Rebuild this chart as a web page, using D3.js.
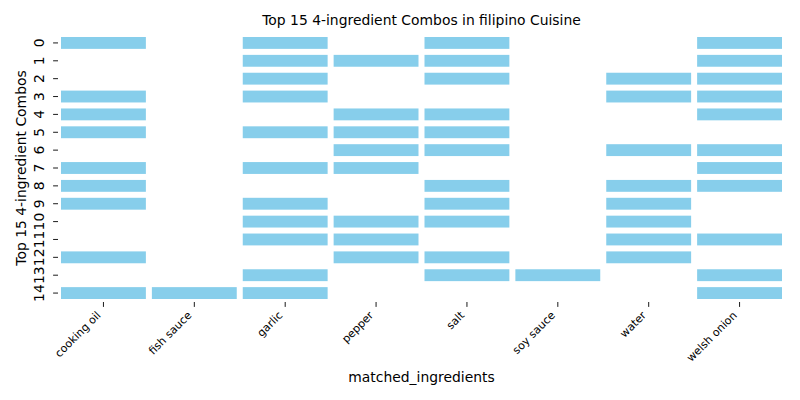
<!DOCTYPE html>
<html><head><meta charset="utf-8">
<script src="https://cdn.jsdelivr.net/npm/d3@7"></script>
<style>body{margin:0;background:#fff}text{font-family:"DejaVu Sans",sans-serif;fill:#000}</style>
</head><body><svg id="c" width="800" height="400"></svg>
<script>
const ingredients = ["cooking oil","fish sauce","garlic","pepper","salt","soy sauce","water","welsh onion"];
const comboLabels = ["0","1","2","3","4","5","6","7","8","9","10","11","12","13","14"];
const combos = [
  ["cooking oil","garlic","salt","welsh onion"],
  ["garlic","pepper","salt","welsh onion"],
  ["garlic","salt","water","welsh onion"],
  ["cooking oil","garlic","water","welsh onion"],
  ["cooking oil","pepper","salt","welsh onion"],
  ["cooking oil","garlic","pepper","salt"],
  ["pepper","salt","water","welsh onion"],
  ["cooking oil","garlic","pepper","welsh onion"],
  ["cooking oil","salt","water","welsh onion"],
  ["cooking oil","garlic","salt","water"],
  ["garlic","pepper","salt","water"],
  ["garlic","pepper","water","welsh onion"],
  ["cooking oil","pepper","salt","water"],
  ["garlic","salt","soy sauce","welsh onion"],
  ["cooking oil","fish sauce","garlic","welsh onion"]
];
const titleText = "Top 15 4-ingredient Combos in filipino Cuisine";

const L = 58, R = 785, T = 34, B = 302, gap = 3;
const svg = d3.select("#c");
const x = d3.scaleBand().domain(ingredients).range([L, R]);
const y = d3.scaleBand().domain(comboLabels).range([T, B]);
const color = d3.scaleOrdinal().domain([0,1]).range(["#ffffff","#87ceeb"]);

const cells = [];
combos.forEach((c, i) => ingredients.forEach(ing => cells.push({row: comboLabels[i], col: ing, v: c.includes(ing) ? 1 : 0})));
svg.append("g").selectAll("rect").data(cells).join("rect")
  .attr("x", d => x(d.col) + gap).attr("y", d => y(d.row) + gap)
  .attr("width", x.bandwidth() - 2*gap).attr("height", y.bandwidth() - 2*gap)
  .attr("fill", d => color(d.v));

// x axis
const xa = svg.append("g").attr("transform", `translate(0,${B})`)
  .call(d3.axisBottom(x).tickSize(4.9).tickSizeOuter(0).tickPadding(0));
xa.select(".domain").remove();
xa.selectAll("line").attr("stroke", "#000").attr("stroke-width", 0.9);
xa.selectAll("text").attr("font-size", 11).attr("text-anchor", "end")
  .attr("dy", null).attr("y", 0)
  .attr("transform", "translate(-2,14) rotate(-45)");

// y axis
const ya = svg.append("g").attr("transform", `translate(${L},0)`)
  .call(d3.axisLeft(y).tickSize(4.9).tickSizeOuter(0).tickPadding(0));
ya.select(".domain").remove();
ya.selectAll("line").attr("stroke", "#000").attr("stroke-width", 0.9);
ya.selectAll("text").attr("font-size", 13.9).attr("text-anchor", "middle")
  .attr("x", null).attr("dy", null)
  .attr("transform", "translate(-14,0) rotate(-90)");

svg.append("text").attr("x", (L+R)/2).attr("y", 25).attr("text-anchor", "middle")
  .attr("font-size", 13.9).text(titleText);
svg.append("text").attr("x", (L+R)/2).attr("y", 382).attr("text-anchor", "middle")
  .attr("font-size", 13.9).text("matched_ingredients");
svg.append("text").attr("transform", `translate(26,${(T+B)/2}) rotate(-90)`)
  .attr("text-anchor", "middle").attr("font-size", 13.9).text("Top 15 4-ingredient Combos");
</script></body></html>
